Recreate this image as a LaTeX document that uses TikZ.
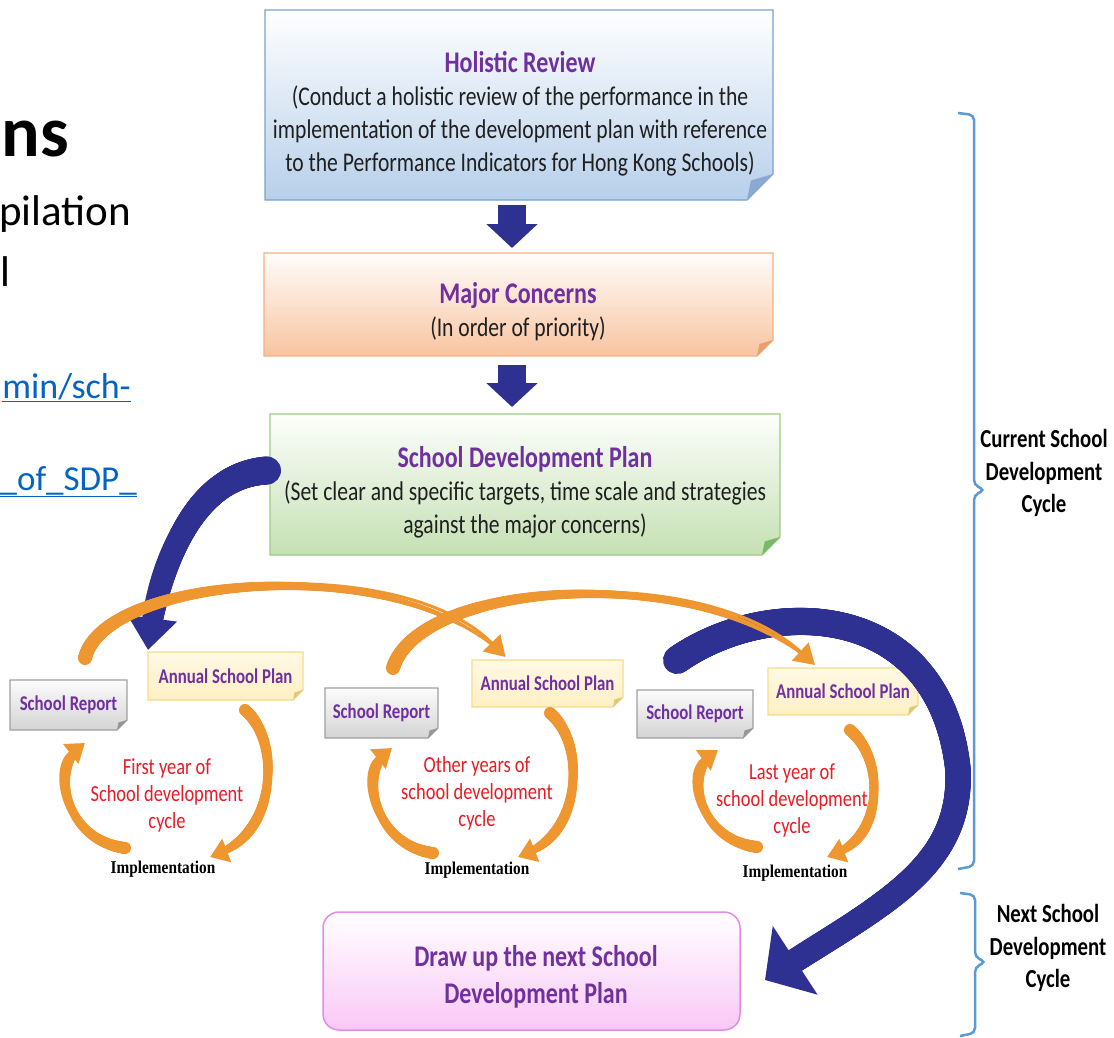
\documentclass[tikz,border=0pt]{standalone}
\usepackage{fontspec}
\setmainfont{Carlito}[FakeStretch=0.8]
\newfontfamily\slidefont{Carlito}
\newfontfamily\timesfont{Liberation Serif}[FakeStretch=0.85]
\usetikzlibrary{calc,arrows.meta,backgrounds,decorations.markings}

\definecolor{titlepurple}{RGB}{112,48,160}
\definecolor{cyclered}{RGB}{232,28,36}
\definecolor{arcblue}{RGB}{46,49,146}
\definecolor{arcorange}{RGB}{238,150,48}
\definecolor{bracketblue}{RGB}{91,155,213}
\definecolor{linkblue}{RGB}{5,99,193}
\definecolor{hrblue}{RGB}{183,207,234}
\definecolor{hrborder}{RGB}{125,160,205}
\definecolor{hrfold}{RGB}{140,168,210}
\definecolor{mcorange}{RGB}{248,196,160}
\definecolor{mcborder}{RGB}{244,177,131}
\definecolor{mcfold}{RGB}{232,160,112}
\definecolor{sdpgreen}{RGB}{197,224,180}
\definecolor{sdpborder}{RGB}{155,205,130}
\definecolor{sdpfold}{RGB}{120,185,100}
\definecolor{srgray}{RGB}{212,212,212}
\definecolor{srborder}{RGB}{160,160,160}
\definecolor{srfold}{RGB}{150,150,150}
\definecolor{aspyellow}{RGB}{255,240,195}
\definecolor{aspborder}{RGB}{245,220,140}
\definecolor{aspfold}{RGB}{225,200,120}
\definecolor{nppink}{RGB}{249,200,246}
\definecolor{npborder}{RGB}{228,140,228}

% box outline with a turned-down bottom-right corner, drawn behind the named node
\newcommand\foldbox[6]{%
  \begin{scope}[on background layer]
    \path[top color=#2, bottom color=#3, draw=#4, line width=1.3pt]
      (#1.north west) -- (#1.north east) -- ($(#1.south east)+(0,-#6)$)
      -- ($(#1.south east)+(-#6,0)$) -- (#1.south west) -- cycle;
    \fill[#5] ($(#1.south east)+(0,-#6)$) -- ($(#1.south east)+(-#6,0)$)
      -- ($(#1.south east)+(-0.85*#6,-0.75*#6)$) -- cycle;
  \end{scope}}

\tikzset{
  boxshape/.style={rectangle, inner sep=0pt, outer sep=0pt},
  headtext/.style={align=center, text=black!88, font=\fontsize{27}{33}\selectfont},
  smalltext/.style={text=titlepurple, font=\bfseries\fontsize{21}{25}\selectfont},
  cycletext/.style={align=center, text=cyclered, font=\fontsize{23}{27}\selectfont},
  impltext/.style={font=\timesfont\bfseries\fontsize{18}{20}\selectfont},
  sidetext/.style={align=center, font=\bfseries\fontsize{26}{32.5}\selectfont},
  blockarrow/.style={draw=arcblue, line width=28pt, -{Triangle[width=50pt,length=24pt]}},
  bracket/.style={draw=bracketblue, line width=2.5pt, rounded corners=5pt},
  % stroke whose width runs from #2 to #3 (ending #4 before the tip)
  taper/.style n args={4}{postaction={decorate, decoration={markings,
    mark=between positions 0 and 1 step 1pt with {%
      \pgfmathsetmacro\tpd{\pgfkeysvalueof{/pgf/decoration/mark info/distance from start}}%
      \pgfmathsetmacro\tpl{\pgfdecoratedpathlength-#4}%
      \pgfmathsetmacro\tpw{#2+(#3-#2)*\tpd/\tpl}%
      \ifdim\tpd pt<\tpl pt
        \fill[#1] (0,0) circle[radius=0.5pt*\tpw];
      \fi}}}},
  bluearc/.style={draw=arcblue, line cap=butt},
  orangearc/.style={draw=arcorange, line cap=butt},
  cyclearrow/.style={orangearc, line width=6pt, -{Triangle[width=24pt,length=18pt]}, taper={arcorange}{12}{6}{18}},
}

\begin{document}
\begin{tikzpicture}[x=1pt,y=-1pt]
\begin{scope}[on background layer]
  \fill[white] (0,0) rectangle (1114,1038);
\end{scope}
\useasboundingbox (0,0) rectangle (1114,1038);

% slide text at the left edge
\node[anchor=base east, inner sep=0pt, font=\slidefont\bfseries\fontsize{72}{80}\selectfont] (ttl) at (69,157) {ns};
\node[anchor=base east, inner sep=0pt, font=\slidefont\fontsize{43}{50}\selectfont] (ln1) at (131,225) {pilation};
\node[anchor=base east, inner sep=0pt, font=\slidefont\fontsize{43}{50}\selectfont] (ln2) at (11,286) {l};
\node[anchor=base east, inner sep=0pt, text=linkblue, font=\slidefont\fontsize{36}{42}\selectfont] (lk1) at (131,398) {\underline{min/sch-}};
\node[anchor=base east, inner sep=0pt, text=linkblue, font=\slidefont\fontsize{35}{42}\selectfont] (lk2) at (137,490) {\underline{\_of\_SDP\_}};

% main boxes
\node[boxshape, minimum width=508pt, minimum height=190pt] (hr) at (519,105) {};
\node[boxshape, minimum width=509pt, minimum height=103pt] (mc) at (518.5,304.5) {};
\node[boxshape, minimum width=510pt, minimum height=141pt] (sdp) at (525,484.5) {};
\foldbox{hr}{white}{hrblue}{hrborder}{hrfold}{26}
\foldbox{mc}{white!96!mcorange}{mcorange}{mcborder}{mcfold}{16}
\foldbox{sdp}{white!96!sdpgreen}{sdpgreen}{sdpborder}{sdpfold}{18}

\node[headtext] (hrt) at (520,114) {{\bfseries\color{titlepurple}\fontsize{30}{33}\selectfont Holistic Review}\\
  (Conduct a holistic review of the performance in the\\
  implementation of the development plan with reference\\
  to the Performance Indicators for Hong Kong Schools)};
\node[headtext] (mct) at (518,312) {{\bfseries\color{titlepurple}\fontsize{30}{33}\selectfont Major Concerns}\\
  (In order of priority)};
\node[headtext] (sdpt) at (525,492) {{\bfseries\color{titlepurple}\fontsize{30}{33}\selectfont School Development Plan}\\
  (Set clear and specific targets, time scale and strategies\\
  against the major concerns)};

\draw[blockarrow] ($(hr.south)+(-7,5)$) -- ($(mc.north)+(-6.5,-5)$);
\draw[blockarrow] ($(mc.south)+(-6.5,9)$) -- ($(sdp.north)+(-13,-7)$);

% yearly cycles
\node[boxshape, smalltext, minimum width=117pt, minimum height=50pt] (sr1) at (68.5,705) {School Report};
\node[boxshape, smalltext, minimum width=155pt, minimum height=48pt] (asp1) at (225.5,676) {Annual School Plan};
\node[boxshape, smalltext, minimum width=113pt, minimum height=50pt] (sr2) at (381.5,713) {School Report};
\node[boxshape, smalltext, minimum width=151pt, minimum height=47pt] (asp2) at (547.5,683.5) {Annual School Plan};
\node[boxshape, smalltext, minimum width=116pt, minimum height=48pt] (sr3) at (695,714) {School Report};
\node[boxshape, smalltext, minimum width=150pt, minimum height=47pt] (asp3) at (843,691.5) {Annual School Plan};
\foldbox{sr1}{white!92!srgray}{srgray}{srborder}{srfold}{10}
\foldbox{sr2}{white!92!srgray}{srgray}{srborder}{srfold}{10}
\foldbox{sr3}{white!92!srgray}{srgray}{srborder}{srfold}{10}
\foldbox{asp1}{white!55!aspyellow}{aspyellow}{aspborder}{aspfold}{10}
\foldbox{asp2}{white!55!aspyellow}{aspyellow}{aspborder}{aspfold}{10}
\foldbox{asp3}{white!55!aspyellow}{aspyellow}{aspborder}{aspfold}{10}

\node[cycletext] (y1) at (167,795) {First year of\\School development\\cycle};
\node[cycletext] (y2) at (477,793) {Other years of\\school development\\cycle};
\node[cycletext] (y3) at (792,800) {Last year of\\school development\\cycle};
\node[impltext] (im1) at (163,869) {Implementation};
\node[impltext] (im2) at (477,870) {Implementation};
\node[impltext] (im3) at (795,873) {Implementation};

% next plan
\node[boxshape, minimum width=417pt, minimum height=118pt] (np) at (531.5,971) {};
\begin{scope}[on background layer]
  \path[rounded corners=16pt, top color=white, bottom color=nppink, draw=npborder, line width=1.5pt]
    (np.north west) rectangle (np.south east);
\end{scope}
\node[align=center, text=titlepurple, font=\bfseries\fontsize{30}{37}\selectfont] (npt) at (536,977)
  {Draw up the next School\\Development Plan};

% large blue arcs
\draw[bluearc, line width=20pt, -{Triangle[width=48pt,length=32pt]}, taper={arcblue}{28}{20}{32}]
  ($(sdp.west)+(-3,-14)$) .. controls (195,475) and (160,560) .. ($(asp1.north west)+(0,-2)$);
\draw[bluearc, line width=24pt, -{Triangle[width=80pt,length=36pt]}, taper={arcblue}{28}{24}{36}]
  ($(sr3.north)+(-18,-30)$) .. controls (770,595) and (940,600) .. (958,770)
  .. controls (962,870) and (880,905) .. ($(np.east)+(25,9)$);

% orange arcs between the years
\draw[orangearc, line width=3pt, -{Triangle[width=24pt,length=20pt]}, taper={arcorange}{14}{3}{20}]
  ($(sr1.north)+(16.5,-22)$) .. controls (105,575) and (400,550) .. ($(asp2.north)+(-42,-3)$);
\draw[orangearc, line width=3pt, -{Triangle[width=24pt,length=20pt]}, taper={arcorange}{14}{3}{20}]
  ($(sr2.north)+(11.5,-20)$) .. controls (420,580) and (700,560) .. ($(asp3.north)+(-28,-3)$);

% small cycle arrows
\draw[cyclearrow] ($(im1)+(-38,-21)$) .. controls (65,840) and (50,770) .. ($(sr1.south)+(16.5,13)$);
\draw[cyclearrow] ($(asp1.south)+(19.5,10)$) .. controls (280,740) and (280,830) .. ($(im1)+(47,-12)$);
\draw[cyclearrow] ($(im2)+(-44,-17)$) .. controls (375,845) and (358,775) .. ($(sr2.south)+(10.5,10)$);
\draw[cyclearrow] ($(asp2.south)+(2.5,6)$) .. controls (585,743) and (585,830) .. ($(im2)+(41,-13)$);
\draw[cyclearrow] ($(im3)+(-38,-26)$) .. controls (700,840) and (683,775) .. ($(sr3.south)+(23,12)$);
\draw[cyclearrow] ($(asp3.south)+(7,15)$) .. controls (885,760) and (885,835) .. ($(im3)+(32,-16)$);

% cycle brackets
\draw[bracket] (958,113) -- (974,115) -- (974,485) -- (985,490) -- (974,495) -- (974,866) -- (958,869);
\draw[bracket] (960,893) -- (975,895) -- (975,957) -- (986,962) -- (975,967) -- (975,1033) -- (960,1036);
\node[sidetext] (cur) at (1044,473) {Current School\\Development\\Cycle};
\node[sidetext] (nxt) at (1048,948) {Next School\\Development\\Cycle};
\end{tikzpicture}
\end{document}
